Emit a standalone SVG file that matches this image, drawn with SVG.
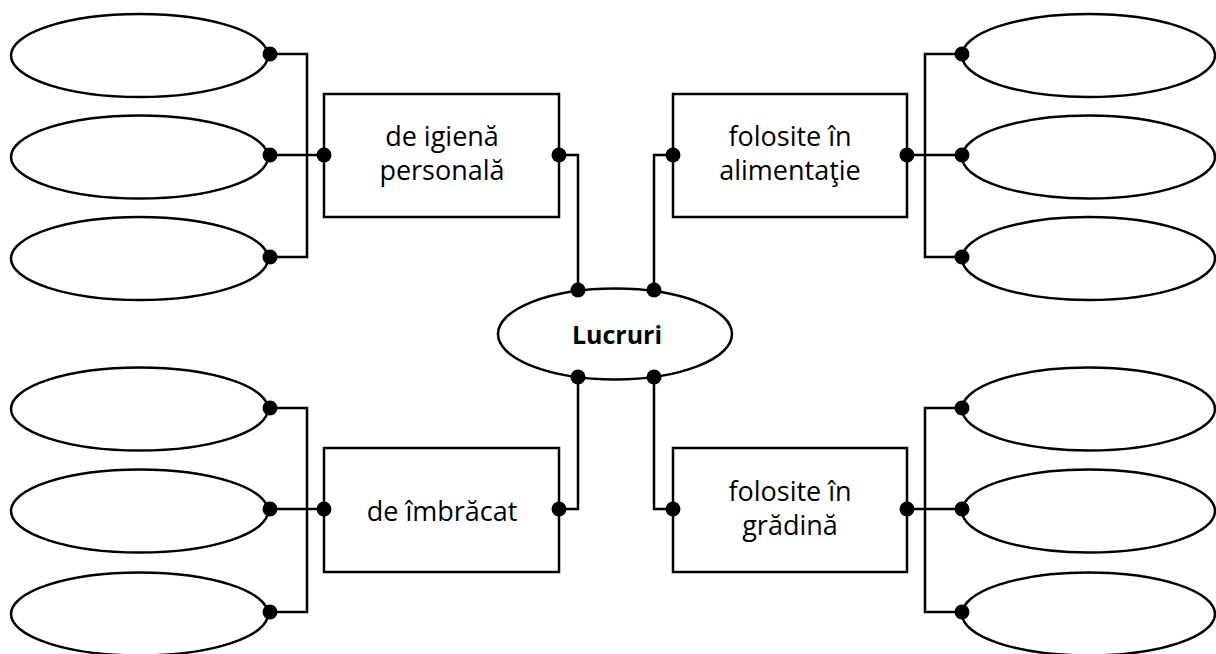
<svg xmlns="http://www.w3.org/2000/svg" width="1216" height="654" viewBox="0 0 1216 654">
<style>
.sh{fill:#fff;stroke:#000;stroke-width:2.5}
.ln{fill:none;stroke:#000;stroke-width:2.5}
.dot{fill:#000}
.t{font-family:"Open Sans","Liberation Sans",sans-serif;font-size:27px;fill:#000;text-anchor:middle}
.b{font-family:"Open Sans","Liberation Sans",sans-serif;font-size:25px;font-weight:bold;fill:#000;text-anchor:middle}
</style>
<rect width="1216" height="654" fill="#fff"/>
<g id="connectors">
<path class="ln" d="M270,54 H307 V257 H270 M270,155 H324"/>
<path class="ln" d="M962,54 H925 V257 H962 M907,155 H962"/>
<path class="ln" d="M270,408 H307 V612 H270 M270,509 H324"/>
<path class="ln" d="M962,408 H925 V612 H962 M907,509 H962"/>
<path class="ln" d="M559,155 H578 V290 M673,155 H654 V290"/>
<path class="ln" d="M559,509 H578 V377 M673,509 H654 V377"/>
</g>
<g id="center">
<ellipse class="sh" cx="615" cy="334" rx="117" ry="45.5"/>
<text class="b" x="617" y="344">Lucruri</text>
</g>
<g id="igiena">
<rect class="sh" x="324" y="94" width="235" height="123"/>
<text class="t" x="442" y="146">de igienă</text>
<text class="t" x="442" y="180">personală</text>
</g>
<g id="alimentatie">
<rect class="sh" x="673" y="94" width="234" height="123"/>
<text class="t" x="790" y="146">folosite în</text>
<text class="t" x="790" y="180">alimentaţie</text>
</g>
<g id="imbracat">
<rect class="sh" x="324" y="448" width="235" height="124"/>
<text class="t" x="442" y="521">de îmbrăcat</text>
</g>
<g id="gradina">
<rect class="sh" x="673" y="448" width="234" height="124"/>
<text class="t" x="790" y="501">folosite în</text>
<text class="t" x="790" y="535">grădină</text>
</g>
<g id="left-top-1"><ellipse class="sh" cx="139.5" cy="55.5" rx="128.5" ry="41.5"/></g>
<g id="left-top-2"><ellipse class="sh" cx="139.5" cy="157" rx="128.5" ry="41.5"/></g>
<g id="left-top-3"><ellipse class="sh" cx="139.5" cy="258.5" rx="128.5" ry="41.5"/></g>
<g id="right-top-1"><ellipse class="sh" cx="1088.5" cy="55.5" rx="126.5" ry="41.5"/></g>
<g id="right-top-2"><ellipse class="sh" cx="1088.5" cy="157" rx="126.5" ry="41.5"/></g>
<g id="right-top-3"><ellipse class="sh" cx="1088.5" cy="258.5" rx="126.5" ry="41.5"/></g>
<g id="left-bottom-1"><ellipse class="sh" cx="139.5" cy="409" rx="128.5" ry="41.5"/></g>
<g id="left-bottom-2"><ellipse class="sh" cx="139.5" cy="511" rx="128.5" ry="41.5"/></g>
<g id="left-bottom-3"><ellipse class="sh" cx="139.5" cy="614" rx="128.5" ry="41.5"/></g>
<g id="right-bottom-1"><ellipse class="sh" cx="1088.5" cy="409" rx="126.5" ry="41.5"/></g>
<g id="right-bottom-2"><ellipse class="sh" cx="1088.5" cy="511" rx="126.5" ry="41.5"/></g>
<g id="right-bottom-3"><ellipse class="sh" cx="1088.5" cy="614" rx="126.5" ry="41.5"/></g>
<g id="dots">
<circle class="dot" cx="270" cy="54" r="7.5"/>
<circle class="dot" cx="270" cy="155" r="7.5"/>
<circle class="dot" cx="270" cy="257" r="7.5"/>
<circle class="dot" cx="324" cy="155" r="7.5"/>
<circle class="dot" cx="559" cy="155" r="7.5"/>
<circle class="dot" cx="673" cy="155" r="7.5"/>
<circle class="dot" cx="907" cy="155" r="7.5"/>
<circle class="dot" cx="962" cy="54" r="7.5"/>
<circle class="dot" cx="962" cy="155" r="7.5"/>
<circle class="dot" cx="962" cy="257" r="7.5"/>
<circle class="dot" cx="578" cy="290" r="7.5"/>
<circle class="dot" cx="654" cy="290" r="7.5"/>
<circle class="dot" cx="578" cy="377" r="7.5"/>
<circle class="dot" cx="654" cy="377" r="7.5"/>
<circle class="dot" cx="270" cy="408" r="7.5"/>
<circle class="dot" cx="270" cy="509" r="7.5"/>
<circle class="dot" cx="270" cy="612" r="7.5"/>
<circle class="dot" cx="324" cy="509" r="7.5"/>
<circle class="dot" cx="559" cy="509" r="7.5"/>
<circle class="dot" cx="673" cy="509" r="7.5"/>
<circle class="dot" cx="907" cy="509" r="7.5"/>
<circle class="dot" cx="962" cy="408" r="7.5"/>
<circle class="dot" cx="962" cy="509" r="7.5"/>
<circle class="dot" cx="962" cy="612" r="7.5"/>
</g>
</svg>
